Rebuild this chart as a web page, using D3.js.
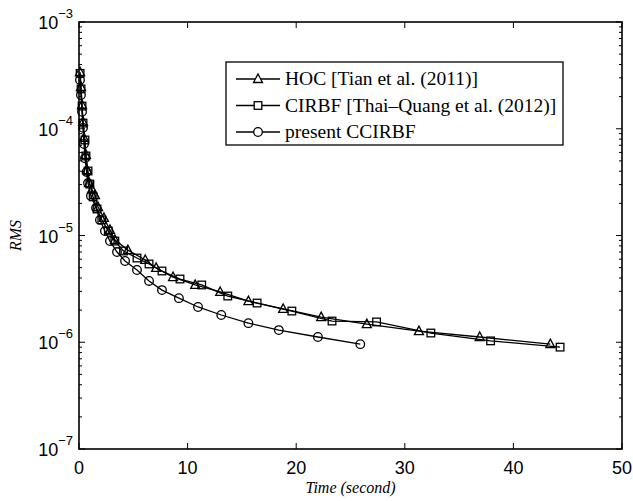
<!DOCTYPE html>
<html>
<head>
<meta charset="utf-8">
<script src="https://cdn.jsdelivr.net/npm/d3@7"></script>
<style>
  body { margin: 0; background: #fff; }
</style>
</head>
<body>
<svg id="chart" width="633" height="501"></svg>
<script>
// series: time (s) and RMS
var hocTime = [0.09, 0.18, 0.28, 0.37, 0.46, 0.64, 0.74, 0.92, 1.2, 1.47, 1.75, 2.3, 2.85, 3.3, 4.5, 6.1, 7.1, 8.66, 10.7, 13.0, 15.6, 18.8, 22.3, 26.5, 31.3, 36.9, 43.4];
var hocRms = [3.40e-4, 2.46e-4, 1.67e-4, 1.16e-4, 8.2e-5, 5.7e-5, 4.1e-5, 3.1e-5, 2.7e-5, 2.39e-5, 1.85e-5, 1.46e-5, 1.13e-5, 9.1e-6, 7.3e-6, 5.9e-6, 4.97e-6, 4.08e-6, 3.44e-6, 2.96e-6, 2.43e-6, 2.05e-6, 1.72e-6, 1.48e-6, 1.27e-6, 1.12e-6, 9.6e-7];

var cirbfTime = [0.1, 0.19, 0.28, 0.37, 0.55, 0.64, 0.83, 1.0, 1.3, 1.66, 2.1, 2.7, 3.3, 4.1, 5.34, 6.45, 7.64, 9.3, 11.3, 13.7, 16.4, 19.6, 23.3, 27.4, 32.4, 37.9, 44.3];
var cirbfRms = [3.3e-4, 2.36e-4, 1.63e-4, 1.13e-4, 7.85e-5, 5.56e-5, 4.02e-5, 3.03e-5, 2.3e-5, 1.77e-5, 1.40e-5, 1.10e-5, 8.87e-6, 7.16e-6, 6.15e-6, 5.41e-6, 4.65e-6, 3.91e-6, 3.44e-6, 2.71e-6, 2.33e-6, 1.96e-6, 1.58e-6, 1.55e-6, 1.22e-6, 1.03e-6, 9.0e-7];

var ccTime = [0.09, 0.18, 0.28, 0.37, 0.46, 0.55, 0.7, 0.83, 1.1, 1.57, 1.93, 2.39, 2.85, 3.5, 4.24, 5.34, 6.45, 7.64, 9.2, 10.96, 13.1, 15.6, 18.4, 22.0, 25.9];
var ccRms = [2.86e-4, 2.07e-4, 1.44e-4, 1.02e-4, 7.2e-5, 5.3e-5, 3.94e-5, 3.10e-5, 2.34e-5, 1.81e-5, 1.40e-5, 1.10e-5, 8.87e-6, 7.0e-6, 5.77e-6, 4.75e-6, 3.75e-6, 3.08e-6, 2.59e-6, 2.14e-6, 1.80e-6, 1.51e-6, 1.30e-6, 1.12e-6, 9.6e-7];

var seriesNames = ["HOC [Tian et al. (2011)]", "CIRBF [Thai\u2013Quang et al. (2012)]", "present CCIRBF"];
var xTicks = [0, 10, 20, 30, 40, 50];
var yExponents = [-7, -6, -5, -4, -3];

var svg = d3.select("#chart");
var plotLeft = 79, plotRight = 622, plotTop = 22, plotBottom = 449;

var x = d3.scaleLinear().domain([0, 50]).range([plotLeft, plotRight]);
var y = d3.scaleLog().domain([1e-7, 1e-3]).range([plotBottom, plotTop]);

// minor log ticks
var minor = [];
for (var e = -7; e < -3; e++)
	for (var m = 2; m <= 9; m++)
		minor.push(m * Math.pow(10, e));

var ticksG = svg.append("g").attr("stroke", "#000").attr("stroke-width", 1);
minor.forEach(function (v) {
	ticksG.append("line").attr("x1", plotLeft).attr("x2", plotLeft + 3).attr("y1", y(v)).attr("y2", y(v));
	ticksG.append("line").attr("x1", plotRight).attr("x2", plotRight - 3).attr("y1", y(v)).attr("y2", y(v));
});
yExponents.forEach(function (e) {
	var v = Math.pow(10, e);
	ticksG.append("line").attr("x1", plotLeft).attr("x2", plotLeft + 6).attr("y1", y(v)).attr("y2", y(v));
	ticksG.append("line").attr("x1", plotRight).attr("x2", plotRight - 6).attr("y1", y(v)).attr("y2", y(v));
});
xTicks.forEach(function (t) {
	ticksG.append("line").attr("x1", x(t)).attr("x2", x(t)).attr("y1", plotBottom).attr("y2", plotBottom - 6);
	ticksG.append("line").attr("x1", x(t)).attr("x2", x(t)).attr("y1", plotTop).attr("y2", plotTop + 6);
});

// x tick labels
svg.append("g").selectAll("text").data(xTicks).enter().append("text")
	.attr("x", function (d) { return x(d); })
	.attr("y", plotBottom + 25)
	.attr("text-anchor", "middle")
	.attr("font-family", "Liberation Sans, Arial, sans-serif")
	.attr("font-size", 18)
	.text(function (d) { return d; });

// y tick labels 10^e
var yl = svg.append("g").selectAll("text").data(yExponents).enter().append("text")
	.attr("x", plotLeft - 6)
	.attr("y", function (d) { return y(Math.pow(10, d)) + 7; })
	.attr("text-anchor", "end")
	.attr("font-family", "Liberation Sans, Arial, sans-serif")
	.attr("font-size", 18);
yl.append("tspan").text("10");
yl.append("tspan").attr("font-size", 13).attr("dy", -11).text(function (d) { return "\u2212" + (-d); });

// box
svg.append("rect")
	.attr("x", plotLeft).attr("y", plotTop)
	.attr("width", plotRight - plotLeft).attr("height", plotBottom - plotTop)
	.attr("fill", "none").attr("stroke", "#000").attr("stroke-width", 1.6);

// axis titles
svg.append("text")
	.attr("x", (plotLeft + plotRight) / 2).attr("y", 493)
	.attr("text-anchor", "middle")
	.attr("font-family", "Liberation Serif, Times New Roman, serif")
	.attr("font-style", "italic").attr("font-size", 16)
	.text("Time (second)");
svg.append("text")
	.attr("transform", "translate(21," + (plotTop + plotBottom) / 2 + ") rotate(-90)")
	.attr("text-anchor", "middle")
	.attr("font-family", "Liberation Serif, Times New Roman, serif")
	.attr("font-style", "italic").attr("font-size", 16)
	.text("RMS");

var line = d3.line()
	.x(function (d) { return x(d[0]); })
	.y(function (d) { return y(d[1]); });

function marker(g, type, cx, cy) {
	if (type == "tri")
		g.append("path").attr("d", "M" + cx + "," + (cy - 5) + "L" + (cx + 4.5) + "," + (cy + 3.5) + "L" + (cx - 4.5) + "," + (cy + 3.5) + "Z");
	else if (type == "sq")
		g.append("rect").attr("x", cx - 3.8).attr("y", cy - 3.8).attr("width", 7.6).attr("height", 7.6);
	else
		g.append("circle").attr("cx", cx).attr("cy", cy).attr("r", 4.3);
}

var series = [
	{ t: hocTime, v: hocRms, m: "tri" },
	{ t: cirbfTime, v: cirbfRms, m: "sq" },
	{ t: ccTime, v: ccRms, m: "circ" }
];

series.forEach(function (s) {
	var pts = s.t.map(function (t, i) { return [t, s.v[i]]; });
	var g = svg.append("g");
	g.append("path").attr("d", line(pts))
		.attr("fill", "none").attr("stroke", "#000").attr("stroke-width", 1.3);
	var mg = g.append("g").attr("fill", "none").attr("stroke", "#000").attr("stroke-width", 1.3);
	pts.forEach(function (p) { marker(mg, s.m, x(p[0]), y(p[1])); });
});

// legend
var lg = svg.append("g");
lg.append("rect").attr("x", 226).attr("y", 62).attr("width", 337).attr("height", 83)
	.attr("fill", "#fff").attr("stroke", "#000").attr("stroke-width", 1.3);
series.forEach(function (s, i) {
	var ly = 79 + i * 26.5;
	lg.append("line").attr("x1", 236).attr("x2", 280).attr("y1", ly).attr("y2", ly)
		.attr("stroke", "#000").attr("stroke-width", 1.3);
	var mg = lg.append("g").attr("fill", "#fff").attr("stroke", "#000").attr("stroke-width", 1.3);
	marker(mg, s.m, 258, ly);
	lg.append("text").attr("x", 285).attr("y", ly + 6)
		.attr("font-family", "Liberation Serif, Times New Roman, serif")
		.attr("font-size", 19.5)
		.text(seriesNames[i]);
});
</script>
</body>
</html>
